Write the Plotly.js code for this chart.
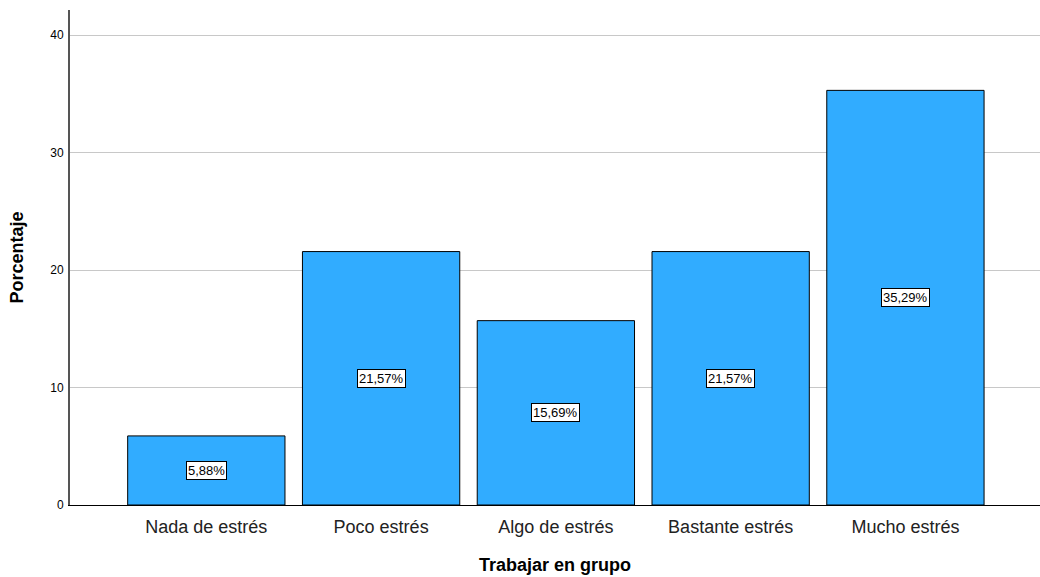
<!DOCTYPE html>
<html><head><meta charset="utf-8">
<script src="https://cdn.plot.ly/plotly-3.0.1.min.js"></script>
<style>body{margin:0;background:#fff}#chart{width:1040px;height:577px}</style>
</head><body><div id="chart"></div>
<script>
const categories = ["Nada de estrés", "Poco estrés", "Algo de estrés", "Bastante estrés", "Mucho estrés"];
const percentages = [5.88, 21.57, 15.69, 21.57, 35.29];
const yTicks = [0, 10, 20, 30, 40];

const fmt = v => v.toFixed(2).replace('.', ',') + '%';

const trace = {
  type: 'bar',
  x: categories,
  y: percentages,
  marker: {color: '#31ACFF', line: {color: '#000', width: 1}},
  hoverinfo: 'none'
};

const annotations = categories.map((c, i) => ({
  x: c, y: percentages[i] / 2, xref: 'x', yref: 'y',
  text: fmt(percentages[i]), showarrow: false,
  bgcolor: '#fff', bordercolor: '#000', borderwidth: 1, borderpad: 1,
  font: {family: 'Liberation Sans, Arial', size: 13, color: '#000'}
}));

const layout = {
  width: 1040, height: 577,
  margin: {l: 70, r: 0, t: 10, b: 72},
  paper_bgcolor: '#fff', plot_bgcolor: '#fff',
  showlegend: false,
  bargap: 0.1,
  font: {family: 'Liberation Sans, Arial', color: '#000'},
  xaxis: {
    range: [-0.78, 4.77],
    showline: true, linecolor: '#000', linewidth: 1,
    ticks: 'outside', ticklen: 5, tickcolor: 'rgba(0,0,0,0)', showgrid: false,
    tickfont: {size: 18, color: '#222'},
    title: {text: '<b>Trabajar en grupo</b>', font: {size: 18}, standoff: 22}
  },
  yaxis: {
    range: [0, 42.13],
    tickvals: yTicks,
    showline: true, linecolor: '#555', linewidth: 2,
    showgrid: true, gridcolor: '#c8c8c8', gridwidth: 1,
    zeroline: false, ticks: 'outside', ticklen: 2, tickcolor: 'rgba(0,0,0,0)',
    tickfont: {size: 12, color: '#000'},
    title: {text: '<b>Porcentaje</b>', font: {size: 18}, standoff: 22}
  },
  annotations: annotations
};

Plotly.newPlot('chart', [trace], layout, {displayModeBar: false, staticPlot: true});
</script></body></html>
